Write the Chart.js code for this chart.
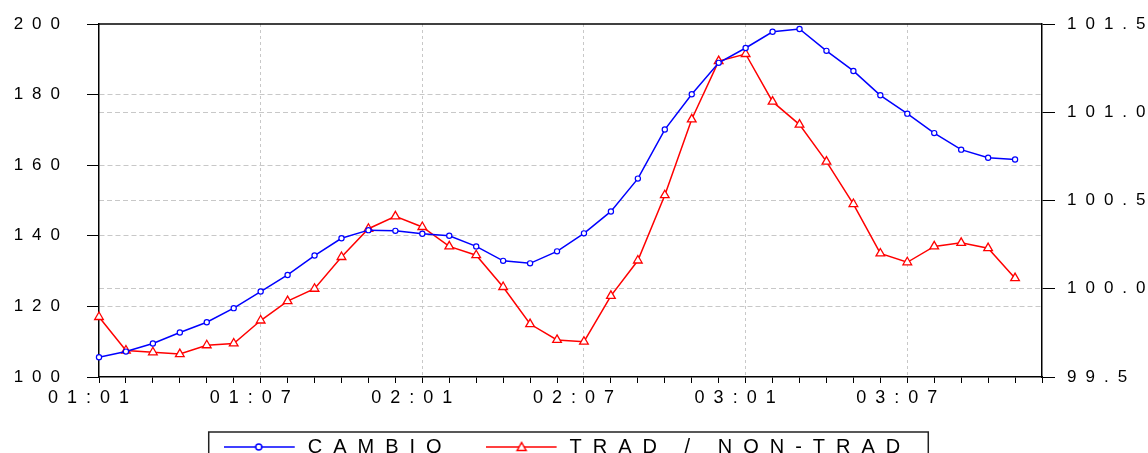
<!DOCTYPE html>
<html>
<head>
<meta charset="utf-8">
<script src="https://cdn.jsdelivr.net/npm/chart.js@4.4.1/dist/chart.umd.min.js"></script>
<style>
  html, body { margin: 0; padding: 0; background: #fff; }
  #c { display: block; }
</style>
</head>
<body>
<canvas id="c" width="1148" height="453"></canvas>
<script>
const categories = [
  '01:01','01:02','01:03','01:04','01:05','01:06','01:07','01:08','01:09','01:10','01:11','01:12',
  '02:01','02:02','02:03','02:04','02:05','02:06','02:07','02:08','02:09','02:10','02:11','02:12',
  '03:01','03:02','03:03','03:04','03:05','03:06','03:07','03:08','03:09','03:10','03:11','03:12'
];
const xTickLabels = ['01:01','01:07','02:01','02:07','03:01','03:07'];
const cambio = [105.6,107.2,109.5,112.6,115.5,119.5,124.2,128.9,134.4,139.3,141.6,141.4,
  140.6,140.0,137.0,132.9,132.2,135.6,140.7,146.9,156.2,170.1,180.1,189.0,
  193.2,197.8,198.6,192.4,186.7,179.8,174.6,169.1,164.4,162.1,161.6];
const tradNonTrad = [99.84,99.65,99.64,99.63,99.68,99.69,99.82,99.93,100.00,100.18,100.34,100.41,
  100.35,100.24,100.19,100.01,99.80,99.71,99.70,99.96,100.16,100.53,100.96,101.29,
  101.33,101.06,100.93,100.72,100.48,100.20,100.15,100.24,100.26,100.23,100.06];
const leftTicks = [100,120,140,160,180,200];
const rightTicks = [99.5,100.0,100.5,101.0,101.5];
const seriesNames = ['CAMBIO','TRAD / NON-TRAD'];

const AX_SPACING = '9px';
const LG_SPACING = '11px';

function markerImage(kind, color) {
  const cv = document.createElement('canvas');
  cv.width = 74; cv.height = 14;
  const g = cv.getContext('2d');
  g.strokeStyle = color; g.lineWidth = 1.5;
  g.beginPath(); g.moveTo(0, 7); g.lineTo(71, 7); g.stroke();
  g.fillStyle = '#fff';
  if (kind === 'circle') {
    g.beginPath(); g.arc(35, 7, 3, 0, Math.PI * 2); g.fill(); g.stroke();
  } else {
    g.beginPath(); g.moveTo(36, 2.5); g.lineTo(40.5, 10.5); g.lineTo(31.5, 10.5); g.closePath(); g.fill(); g.stroke();
  }
  return cv;
}
const markers = [markerImage('circle', '#0000ff'), markerImage('triangle', '#ff0000')];

const spacingPlugin = {
  id: 'spacing',
  afterInit(chart) {
    chart.ctx.letterSpacing = AX_SPACING;
    const lg = chart.legend;
    if (lg && !lg._wrapped) {
      const f = lg.fit.bind(lg), d = lg.draw.bind(lg);
      lg.fit = function () {
        chart.ctx.letterSpacing = LG_SPACING; f(); chart.ctx.letterSpacing = AX_SPACING;
        if (lg.lineWidths && lg.lineWidths.length) lg.lineWidths[0] += 13;
      };
      lg.draw = function (a) { chart.ctx.letterSpacing = LG_SPACING; d(a); chart.ctx.letterSpacing = AX_SPACING; };
      lg._wrapped = true;
    }
  },
  beforeUpdate(chart) { chart.ctx.letterSpacing = AX_SPACING; },
  beforeLayout(chart) { chart.ctx.letterSpacing = AX_SPACING; },
  beforeDraw(chart) { chart.ctx.letterSpacing = AX_SPACING; },
  afterDraw(chart) {
    const ctx = chart.ctx, ca = chart.chartArea;
    ctx.save();
    ctx.setLineDash([]);
    ctx.strokeStyle = '#000';
    ctx.lineWidth = 1.5;
    ctx.beginPath(); ctx.moveTo(ca.left, ca.top); ctx.lineTo(ca.right, ca.top); ctx.stroke();
    const hb = chart.legend && chart.legend.legendHitBoxes;
    if (hb && hb.length) {
      const last = hb[hb.length - 1];
      const l = hb[0].left - 15, r = last.left + last.width + 17;
      const t = hb[0].top + hb[0].height / 2 - 15;
      ctx.strokeStyle = '#222';
      ctx.lineWidth = 1.5;
      ctx.strokeRect(l, t, r - l, chart.height + 10 - t);
    }
    ctx.restore();
  }
};

Chart.defaults.font.family = '"Liberation Sans", Arial, sans-serif';
Chart.defaults.color = '#000';

function noPad(s) { s.paddingTop = 0; s.paddingBottom = 0; }

new Chart(document.getElementById('c'), {
  type: 'line',
  data: {
    labels: categories,
    datasets: [
      {
        label: seriesNames[0], data: cambio, yAxisID: 'y',
        borderColor: '#0000ff', borderWidth: 1.5, tension: 0,
        pointStyle: 'circle', pointRadius: 2.6, pointBorderWidth: 1.2,
        pointBorderColor: '#0000ff', pointBackgroundColor: '#fff', clip: false
      },
      {
        label: seriesNames[1], data: tradNonTrad, yAxisID: 'y1',
        borderColor: '#ff0000', borderWidth: 1.5, tension: 0,
        pointStyle: 'triangle', pointRadius: 5, pointBorderWidth: 1.3,
        pointBorderColor: '#ff0000', pointBackgroundColor: '#fff', clip: false
      }
    ]
  },
  options: {
    responsive: false,
    animation: false,
    events: [],
    layout: { padding: { top: 24, right: 0, left: 0, bottom: 0 } },
    plugins: {
      tooltip: { enabled: false },
      legend: {
        position: 'bottom',
        maxHeight: 49,
        labels: {
          usePointStyle: true,
          pointStyleWidth: 74,
          padding: 33,
          color: '#000',
          font: { size: 20 },
          generateLabels(chart) {
            const items = Chart.defaults.plugins.legend.labels.generateLabels(chart);
            items.forEach(it => { it.pointStyle = markers[it.datasetIndex]; it.fontColor = '#000'; });
            return items;
          }
        }
      }
    },
    scales: {
      x: {
        type: 'category',
        offset: false,
        afterFit(s) { s.height = 27; },
        border: { display: true, color: '#000', width: 1.5, dash: [3, 3] },
        grid: {
          drawTicks: true,
          tickLength: 6,
          tickColor: '#000',
          tickWidth: 1,
          lineWidth: 1,
          color(ctx) {
            const lab = categories[ctx.index];
            return (ctx.index > 0 && xTickLabels.includes(lab)) ? '#c8c8c8' : 'rgba(0,0,0,0)';
          }
        },
        ticks: {
          autoSkip: false,
          maxRotation: 0,
          padding: 4,
          labelOffset: -6,
          font: { size: 18 },
          color: '#000',
          callback(v, i) { const lab = categories[i]; return xTickLabels.includes(lab) ? lab : ''; }
        }
      },
      y: {
        position: 'left',
        min: leftTicks[0], max: leftTicks[leftTicks.length - 1],
        afterBuildTicks(s) { s.ticks = leftTicks.map(v => ({ value: v })); },
        afterFit(s) { s.width = 99; noPad(s); },
        border: { display: true, color: '#000', width: 1.5, dash: [5, 3] },
        grid: {
          tickLength: 12, tickColor: '#000', tickWidth: 1, lineWidth: 1,
          color(ctx) { const v = ctx.tick && ctx.tick.value; return (v > leftTicks[0] && v < leftTicks[leftTicks.length - 1]) ? '#c8c8c8' : 'rgba(0,0,0,0)'; }
        },
        ticks: { padding: 18, font: { size: 17 }, color: '#000', callback: v => String(v) }
      },
      y1: {
        position: 'right',
        min: rightTicks[0], max: rightTicks[rightTicks.length - 1],
        afterBuildTicks(s) { s.ticks = rightTicks.map(v => ({ value: v })); },
        afterFit(s) { s.width = 106; noPad(s); },
        border: { display: true, color: '#000', width: 1.5, dash: [5, 3] },
        grid: {
          tickLength: 13, tickColor: '#000', tickWidth: 1, lineWidth: 1,
          color(ctx) { const v = ctx.tick && ctx.tick.value; return (v > rightTicks[0] && v < rightTicks[rightTicks.length - 1]) ? '#c8c8c8' : 'rgba(0,0,0,0)'; }
        },
        ticks: { padding: 12, font: { size: 17 }, color: '#000', callback: v => Number(v).toFixed(1) }
      }
    }
  },
  plugins: [spacingPlugin]
});
</script>
</body>
</html>
